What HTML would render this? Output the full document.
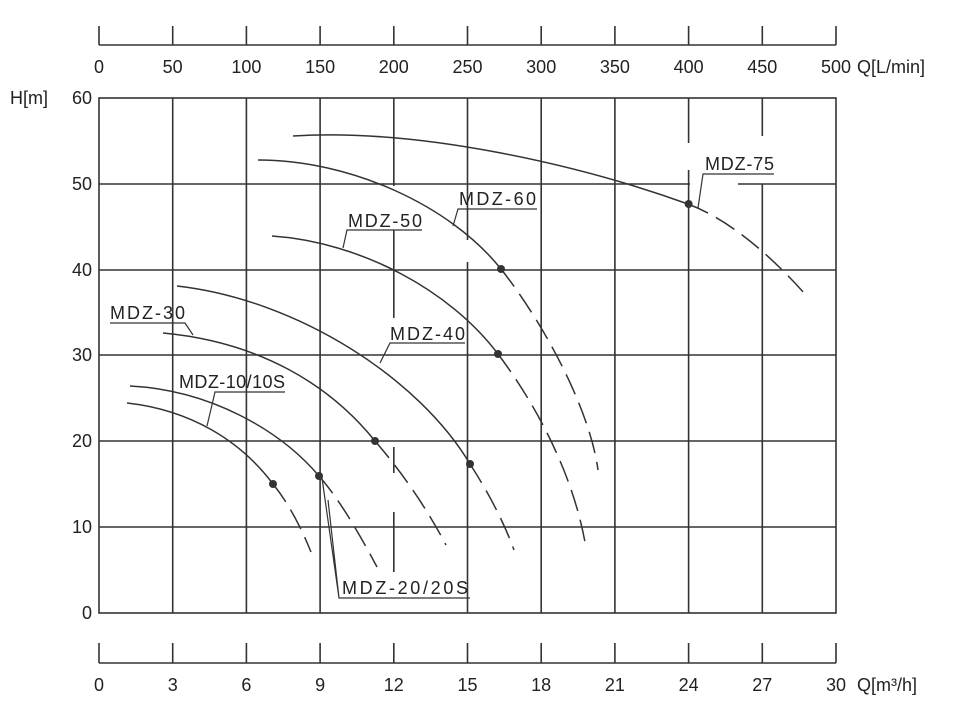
<!DOCTYPE html>
<html><head><style>
html,body{margin:0;padding:0;background:#fff;}
svg{display:block;font-family:"Liberation Sans","DejaVu Sans",sans-serif;}
</style></head><body>
<svg width="956" height="701" viewBox="0 0 956 701" xmlns="http://www.w3.org/2000/svg">
<g stroke="#333" stroke-width="1.6" fill="none">
<line x1="99" y1="45" x2="836" y2="45"/>
<path d="M99 26V45M172.7 26V45M246.4 26V45M320.1 26V45M393.8 26V45M467.5 26V45M541.2 26V45M614.9 26V45M688.6 26V45M762.3 26V45M836 26V45"/>
<line x1="99" y1="663" x2="836" y2="663"/>
<path d="M99 643V663M172.7 643V663M246.4 643V663M320.1 643V663M393.8 643V663M467.5 643V663M541.2 643V663M614.9 643V663M688.6 643V663M762.3 643V663M836 643V663"/>
<rect x="99" y="98" width="737" height="515"/>
<path d="M99 184H690M738 184H836M99 270H836M99 355H836M99 441H836M99 527H836"/>
<path d="M172.7 98V613M246.4 98V613M320.1 98V613M467.5 98V240M467.5 262V613M541.2 98V613M614.9 98V613M688.6 98V143M688.6 170V613M762.3 98V136M762.3 184V613"/>
<path d="M393.8 98V186M393.8 230V318M393.8 447V473M393.8 512V572"/>
</g>
<g stroke="#333" stroke-width="1.5" fill="none">
<path d="M293 136 C420 128 580 165 688 204"/>
<path d="M258 160 C350 160 450 205 501 269"/>
<path d="M272 236 C360 242 450 290 498 354"/>
<path d="M177 286 C300 300 420 380 470 464"/>
<path d="M163 333 C260 342 330 385 375 441"/>
<path d="M130 386 C210 390 280 430 319 476"/>
<path d="M127 403 C190 410 240 440 273 484"/>
</g>
<g stroke="#333" stroke-width="1.5" fill="none" stroke-dasharray="22,9">
<path d="M688 204 C730 220 770 255 805 294"/>
<path d="M501 269 C545 325 590 410 598 470"/>
<path d="M498 354 C540 410 575 480 586 548"/>
<path d="M470 464 C490 495 505 525 514 550"/>
<path d="M375 441 C400 470 425 505 446 545"/>
<path d="M319 476 C340 500 360 535 377 567"/>
<path d="M273 484 C290 505 302 530 311 552"/>
</g>
<g fill="#333">
<circle cx="688.6" cy="204" r="4"/>
<circle cx="501" cy="269" r="4"/>
<circle cx="498" cy="354" r="4"/>
<circle cx="470" cy="464" r="4"/>
<circle cx="375" cy="441" r="4"/>
<circle cx="319" cy="476" r="4"/>
<circle cx="273" cy="484" r="4"/>
</g>
<g stroke="#333" stroke-width="1.2" fill="none">
<path d="M774 174H703L698 208"/>
<path d="M537 209H458L453 226"/>
<path d="M422 230H347L343 248"/>
<path d="M110 323H185L193 335"/>
<path d="M465 343H390L380 363"/>
<path d="M285 392H215L207 426"/>
<path d="M470 598H339L322 478M339 598L328 500"/>
</g>
<g font-size="18" fill="#222">
<text x="705" y="170" textLength="69">MDZ-75</text>
<text x="459" y="205" textLength="77">MDZ-60</text>
<text x="348" y="227" textLength="74">MDZ-50</text>
<text x="110" y="319" textLength="75">MDZ-30</text>
<text x="390" y="340" textLength="75">MDZ-40</text>
<text x="179" y="388" textLength="106">MDZ-10/10S</text>
<text x="342" y="594" textLength="126">MDZ-20/20S</text>
</g>
<g font-size="18" fill="#222" text-anchor="middle">
<text x="99" y="73">0</text><text x="172.7" y="73">50</text><text x="246.4" y="73">100</text><text x="320.1" y="73">150</text><text x="393.8" y="73">200</text><text x="467.5" y="73">250</text><text x="541.2" y="73">300</text><text x="614.9" y="73">350</text><text x="688.6" y="73">400</text><text x="762.3" y="73">450</text><text x="836" y="73">500</text>
<text x="99" y="691">0</text><text x="172.7" y="691">3</text><text x="246.4" y="691">6</text><text x="320.1" y="691">9</text><text x="393.8" y="691">12</text><text x="467.5" y="691">15</text><text x="541.2" y="691">18</text><text x="614.9" y="691">21</text><text x="688.6" y="691">24</text><text x="762.3" y="691">27</text><text x="836" y="691">30</text>
</g>
<g font-size="18" fill="#222" text-anchor="end">
<text x="92" y="104">60</text><text x="92" y="190">50</text><text x="92" y="276">40</text><text x="92" y="361">30</text><text x="92" y="447">20</text><text x="92" y="533">10</text><text x="92" y="619">0</text>
</g>
<g font-size="18" fill="#222">
<text x="10" y="104">H[m]</text>
<text x="857" y="73">Q[L/min]</text>
<text x="857" y="691">Q[m³/h]</text>
</g>
</svg>
</body></html>
